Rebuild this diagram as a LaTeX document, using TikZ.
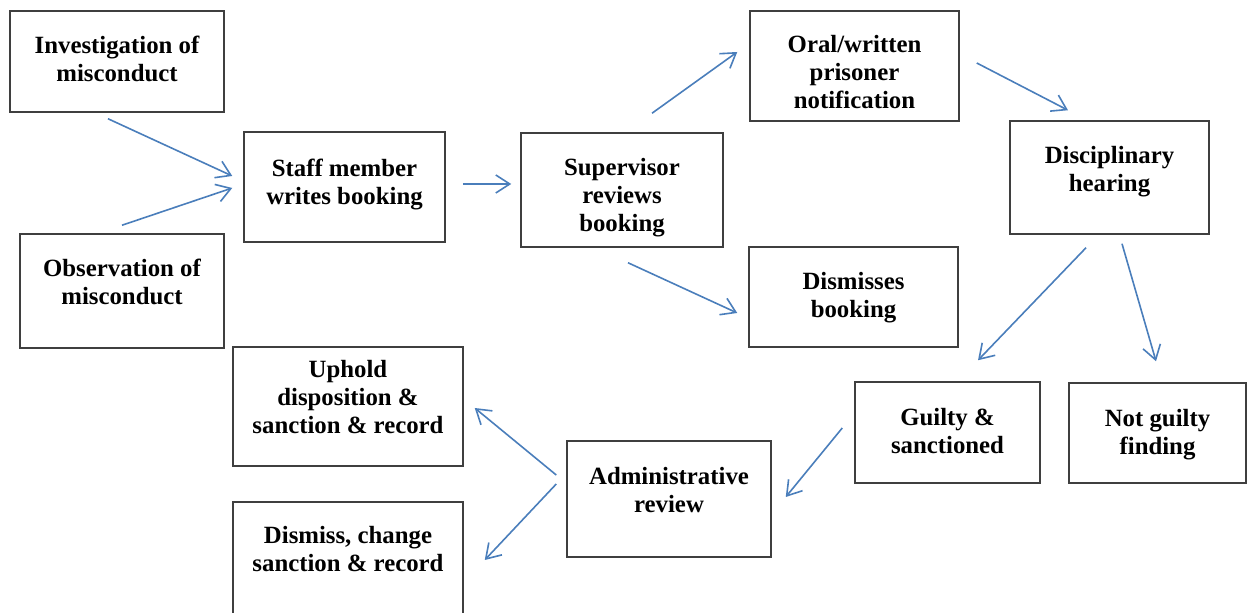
\documentclass[tikz,border=0pt]{standalone}
\usepackage{fontspec}
\setmainfont{Liberation Serif}
\usepackage{tikz}
\definecolor{arrowblue}{HTML}{4A7EBB}
\definecolor{boxgray}{HTML}{3F3F3F}
\usetikzlibrary{arrows.meta,calc}

\begin{document}
\begin{tikzpicture}[x=0.5pt, y=-0.5pt]
    \tikzset{box/.style={
      rectangle,
      draw=boxgray,
      line width=0.75pt,
      inner sep=0pt,
      text height=35.5pt,
      font=\bfseries\fontsize{12.4}{14}\selectfont,
      align=center},
      flow/.style={
      draw=arrowblue,
      line width=0.8pt,
      -{Straight Barb[length=7pt, width=9pt]}}}
    \clip (0, 0) rectangle (1247, 613);
    \node[box, minimum width=107pt, text depth=15pt] at (117, 61.5) (inv) {Investigation of\\misconduct};
    \node[box, minimum width=102pt, text depth=21.5pt] at (122, 291) (obs) {Observation of\\misconduct};
    \node[box, minimum width=100.5pt, text height=36.5pt, text depth=18.5pt] at (344.5, 187) (staff) {Staff member\\writes booking};
    \node[box, minimum width=101pt, text height=49.5pt, text depth=7.5pt] at (622, 190) (sup) {Supervisor\\reviews\\booking};
    \node[box, minimum width=104.5pt, text height=49pt, text depth=6pt] at (854.5, 66) (oral) {Oral/written\\prisoner\\notification};
    \node[box, minimum width=104.5pt, text depth=14.5pt] at (853.5, 297) (dism) {Dismisses\\booking};
    \node[box, minimum width=99.5pt, text depth=21pt] at (1109.5, 177.5) (disc) {Disciplinary\\hearing};
    \node[box, minimum width=92.5pt, text height=36pt, text depth=14.5pt] at (947.5, 432.5) (guilty) {Guilty \&\\sanctioned};
    \node[box, minimum width=88.5pt, text height=36pt, text depth=14pt] at (1157.5, 433) (notg) {Not guilty\\finding};
    \node[box, minimum width=102pt, text height=36pt, text depth=22pt] at (669, 499) (admin) {Administrative\\review};
    \node[box, minimum width=115pt, text height=43.5pt, text depth=16pt] at (348, 406.5) (uphold) {Uphold\\disposition \&\\sanction \& record};
    \node[box, minimum width=115pt, text height=35pt, text depth=23pt] at (348, 560) (dischg) {Dismiss, change\\sanction \& record};
    % arrows stop short of the boxes
    \draw[flow] ($(inv.south)+(-9, 6)$) -- ($(staff.west)+(-11, -11)$);
    \draw[flow] ($(obs.north)+(0, -8)$) -- ($(staff.west)+(-11, 1)$);
    \draw[flow] ($(staff.east)+(17, -3)$) -- ($(sup.west)+(-9, -6)$);
    \draw[flow] ($(sup.north)+(30, -19)$) -- ($(oral.west)+(-12, -14)$);
    \draw[flow] ($(sup.south)+(6, 15)$) -- ($(dism.west)+(-11, 16)$);
    \draw[flow] ($(oral.east)+(17, -3)$) -- ($(disc.north)+(-41.5, -10)$);
    \draw[flow] ($(disc.south)+(-23.5, 13)$) -- ($(guilty.north)+(30.5, -21)$);
    \draw[flow] ($(disc.south)+(12.5, 9)$) -- ($(notg.north)+(-1.5, -21)$);
    \draw[flow] ($(guilty.west)+(-12, -4.5)$) -- ($(admin.east)+(14, -2)$);
    \draw[flow] ($(admin.west)+(-10, -24)$) -- ($(uphold.east)+(11, 1.5)$);
    \draw[flow] ($(admin.west)+(-10, -15)$) -- ($(dischg.east)+(21, 0)$);
\end{tikzpicture}
\end{document}
